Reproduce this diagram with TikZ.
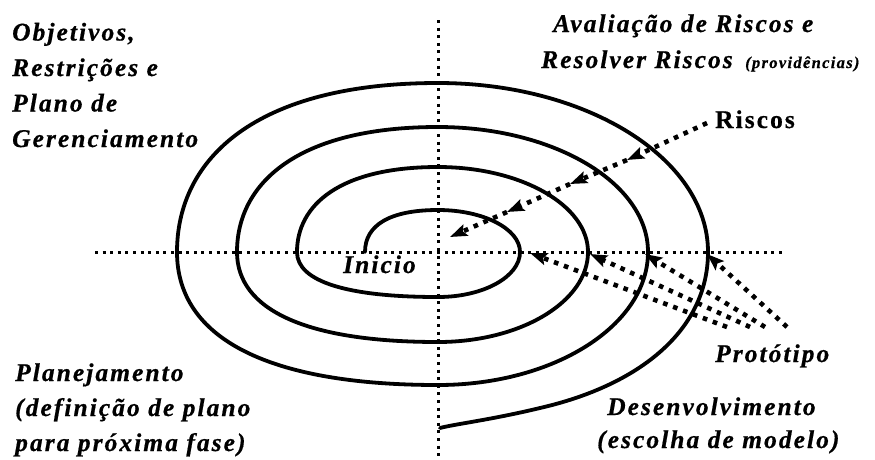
\documentclass[tikz,border=0pt]{standalone}
\usepackage{fontspec}
\setmainfont{Liberation Serif}
\newfontfamily\lblfont[LetterSpace=8,FakeBold=0.6]{Liberation Serif}
\usetikzlibrary{arrows.meta}
\tikzset{
  axisline/.style={line width=3pt, dash pattern=on 3pt off 4.6pt},
  spiralline/.style={line width=3.8pt, line cap=round, line join=round},
  ptr/.style={line width=4.6pt, dash pattern=on 4.6pt off 6pt,
    -{Stealth[length=17pt,width=12pt,inset=3pt]}},
  lbl/.style={font=\lblfont\bfseries\itshape\fontsize{25.5}{35.5}\selectfont,
    inner sep=0pt, anchor=base west, align=left},
  small/.style={font=\lblfont\bfseries\itshape\fontsize{16.5}{18}\selectfont,
    inner sep=0pt, anchor=base west}
}
\begin{document}
\begin{tikzpicture}[x=1pt,y=-1pt]
\useasboundingbox[fill=white] (0,0) rectangle (875,459);

% axes
\coordinate (vt) at (438,20);
\coordinate (vb) at (438,459);
\coordinate (hl) at (95,252);
\coordinate (hr) at (782,252);
\draw[axisline] (vt) -- (vb);
\draw[axisline] (hl) -- (hr);

% spiral
\draw[spiralline]
 (365,252)
 .. controls (365,224.7) and (390.5,210) .. (438,210)
 .. controls (483.3,210) and (520,228.8) .. (520,252)
 .. controls (520,276.8) and (483.3,297) .. (438,297)
 .. controls (346.4,297) and (297,281.3) .. (297,252)
 .. controls (297,205.3) and (339.3,167) .. (438,167)
 .. controls (520.8,167) and (588,205.1) .. (588,252)
 .. controls (588,301.7) and (520.8,342) .. (438,342)
 .. controls (307.4,342) and (237,310.5) .. (237,252)
 .. controls (237,183.3) and (297.3,127) .. (438,127)
 .. controls (553.9,127) and (648,183) .. (648,252)
 .. controls (648,325.4) and (553.9,385) .. (438,385)
 .. controls (268.4,385) and (177,338.5) .. (177,252)
 .. controls (177,159) and (255.3,83) .. (438,83)
 .. controls (587,83) and (708,158.7) .. (708,252)
 .. controls (708,330) and (640,385) .. (540,408)
 .. controls (490,420) and (455,424) .. (440,428);

% Riscos arrows
\coordinate (rs) at (707,123);
\coordinate (r1) at (627,160);
\coordinate (r2) at (570,184);
\coordinate (r3) at (507,212);
\coordinate (r4) at (450,237);
\draw[ptr] (rs) -- (r1);
\draw[ptr] (r1) -- (r2);
\draw[ptr] (r2) -- (r3);
\draw[ptr] (r3) -- (r4);

% Prototipo arrows
\coordinate (p1s) at (727,327);
\coordinate (p2s) at (750,327);
\coordinate (p3s) at (765,327);
\coordinate (p4s) at (787,327);
\coordinate (p1) at (530,253);
\coordinate (p2) at (590,254);
\coordinate (p3) at (645,254);
\coordinate (p4) at (707,254);
\draw[ptr] (p1s) -- (p1);
\draw[ptr] (p2s) -- (p2);
\draw[ptr] (p3s) -- (p3);
\draw[ptr] (p4s) -- (p4);

% labels (base anchor of a multi-line node = last line's baseline)
\node[lbl] (obj) at (12,147) {Objetivos,\\Restrições e\\Plano de\\Gerenciamento};
\node[lbl] (aval) at (553,32) {Avaliação de Riscos e};
\node[lbl] (resolv) at (541,68) {Resolver Riscos};
\node[small] (prov) at (745,68) {(providências)};
\node[lbl, font=\lblfont\bfseries\fontsize{25.5}{28}\selectfont] (riscos) at (715,128) {Riscos};
\node[lbl] (inicio) at (343,273) {Inicio};
\node[lbl, font=\lblfont\bfseries\itshape\fontsize{25.5}{35}\selectfont] (plan) at (15,451) {Planejamento\\(definição de plano\\para próxima fase)};
\node[lbl] (proto) at (715,362) {Protótipo};
\node[lbl] (desenv) at (607,415) {Desenvolvimento};
\node[lbl] (escolha) at (597,448) {(escolha de modelo)};
\end{tikzpicture}
\end{document}
